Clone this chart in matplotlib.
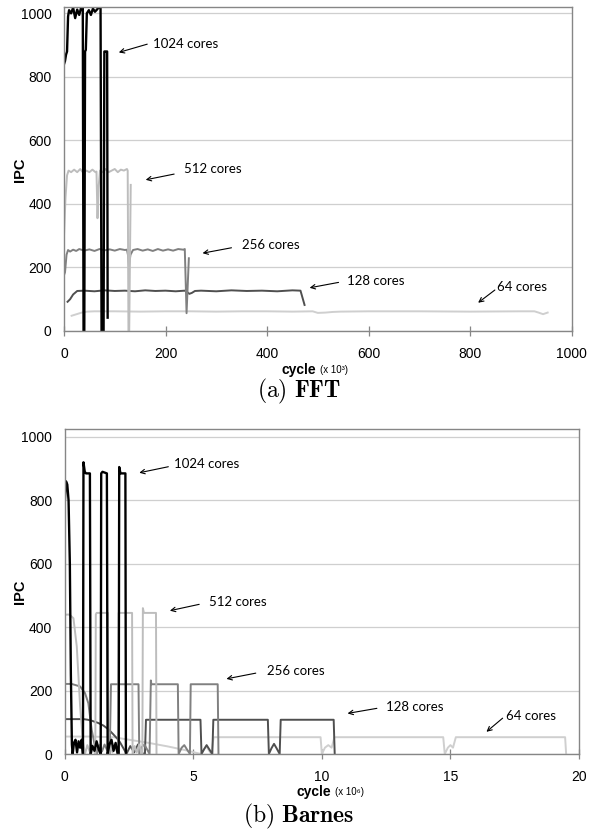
import matplotlib
matplotlib.use("Agg")
import matplotlib.pyplot as plt

# ---------------- FFT data (x in 10^3 cycles) ----------------
fft_x_1024 = [0, 2, 4, 6, 8, 10, 14, 18, 22, 26, 30, 34, 36, 37, 38.5, 40, 41.5, 43, 45, 49, 53, 57, 61, 65, 69, 72, 74, 76, 78, 79.5, 82, 85, 86]
fft_y_1024 = [840, 850, 870, 880, 990, 1010, 1000, 1018, 985, 1012, 995, 1020, 1015, 1020, 0, 0, 880, 885, 1000, 1010, 995, 1015, 1005, 1012, 1020, 1020, 0, 0, 0, 880, 880, 880, 42]

fft_x_512 = [0, 3, 6, 9, 14, 20, 26, 32, 38, 44, 50, 56, 62, 64, 66, 68, 71, 76, 82, 88, 94, 100, 106, 112, 118, 124, 125.5, 127, 128.5, 131.5]
fft_y_512 = [300, 420, 490, 505, 500, 508, 500, 510, 498, 505, 500, 508, 500, 502, 355, 450, 505, 500, 510, 500, 505, 510, 500, 508, 505, 510, 505, 0, 0, 460]

fft_x_256 = [0, 2, 5, 8, 12, 18, 24, 30, 40, 50, 60, 70, 80, 90, 100, 110, 120, 124, 126, 128, 131, 136, 145, 155, 165, 175, 185, 195, 205, 215, 225, 235, 238, 241.5, 246]
fft_y_256 = [176, 185, 240, 255, 250, 256, 252, 258, 253, 257, 252, 258, 254, 257, 253, 258, 255, 256, 240, 205, 240, 255, 258, 253, 257, 252, 258, 253, 257, 253, 258, 256, 258, 56, 229]

fft_x_128 = [7, 12, 18, 26, 40, 60, 80, 100, 120, 140, 160, 180, 200, 220, 238, 243, 247, 252, 258, 270, 300, 330, 360, 390, 420, 450, 466, 474]
fft_y_128 = [92, 100, 115, 126, 127, 125, 128, 126, 127, 125, 128, 126, 127, 125, 127, 122, 117, 120, 126, 127, 125, 128, 126, 127, 125, 128, 127, 82]

fft_x_64 = [15, 25, 35, 45, 60, 100, 150, 200, 250, 300, 350, 400, 450, 490, 500, 515, 530, 545, 600, 700, 800, 900, 927, 935, 944, 953]
fft_y_64 = [48, 53, 58, 61, 62, 62, 61, 62, 62, 61, 62, 62, 61, 62, 57, 58, 60, 61, 62, 62, 61, 62, 62, 58, 53, 58]

# ---------------- Barnes data (x in 10^6 cycles) ----------------
bar_x_1024 = [0, 0.05, 0.1, 0.15, 0.2, 0.24, 0.28, 0.31, 0.36, 0.42, 0.48, 0.54, 0.6, 0.66, 0.71, 0.73, 0.78, 0.83, 0.98, 1.01, 1.08, 1.16, 1.24, 1.32, 1.40, 1.42, 1.47, 1.64, 1.67, 1.74, 1.82, 1.9, 1.98, 2.06, 2.10, 2.12, 2.17, 2.36, 2.38]
bar_y_1024 = [790, 860, 850, 800, 600, 250, 30, 0, 35, 45, 5, 40, 20, 45, 0, 920, 890, 885, 885, 0, 25, 10, 40, 15, 0, 885, 890, 885, 0, 30, 45, 10, 35, 0, 0, 905, 885, 885, 0]

bar_x_512 = [0, 0.15, 0.25, 0.34, 0.47, 0.6, 0.7, 0.79, 0.88, 0.97, 1.06, 1.14, 1.19, 1.21, 1.24, 1.68, 1.70, 1.78, 1.86, 1.94, 2.02, 2.08, 2.10, 2.62, 2.64, 2.72, 2.8, 2.9, 2.98, 3.02, 3.04, 3.08, 3.55, 3.57]
bar_y_512 = [439, 440, 435, 428, 339, 150, 44, 0, 28, 8, 30, 10, 0, 440, 445, 445, 0, 25, 5, 30, 10, 0, 445, 445, 0, 25, 5, 30, 0, 0, 460, 445, 445, 0]

bar_x_256 = [0, 0.27, 0.6, 0.79, 0.92, 1.05, 1.18, 1.25, 1.35, 1.45, 1.55, 1.65, 1.75, 1.80, 2.87, 2.90, 3.0, 3.1, 3.2, 3.3, 3.35, 3.37, 4.40, 4.43, 4.55, 4.65, 4.75, 4.87, 4.90, 5.95, 5.98]
bar_y_256 = [221, 221, 213, 192, 160, 76, 23, 0, 28, 8, 30, 12, 0, 220, 220, 0, 22, 30, 15, 0, 232, 220, 220, 0, 20, 28, 15, 0, 220, 220, 0]

bar_x_128 = [0, 0.4, 0.73, 0.9, 1.05, 1.3, 1.5, 1.7, 1.89, 2.05, 2.15, 2.34, 2.4, 2.55, 2.7, 2.85, 3.0, 3.12, 3.16, 5.28, 5.32, 5.42, 5.52, 5.62, 5.74, 5.78, 7.9, 7.94, 8.04, 8.14, 8.24, 8.36, 8.40, 10.46, 10.5]
bar_y_128 = [110, 110, 110, 108, 105, 98, 90, 78, 62, 48, 37, 10, 0, 25, 5, 30, 3, 0, 108, 108, 0, 15, 28, 15, 0, 108, 108, 0, 18, 32, 18, 0, 108, 108, 0]

bar_x_64 = [0, 1.0, 1.9, 2.5, 3.2, 4.0, 4.7, 5.2, 5.3, 5.5, 5.7, 5.79, 9.95, 10.0, 10.12, 10.25, 10.38, 10.49, 14.72, 14.78, 14.9, 15.0, 15.1, 15.21, 19.46, 19.5]
bar_y_64 = [55, 55, 53, 45, 36, 24, 12, 2, 0, 25, 0, 53, 53, 0, 20, 28, 20, 53, 53, 0, 20, 28, 20, 53, 53, 0]

series_labels = ["1024 cores", "512 cores", "256 cores", "128 cores", "64 cores"]
colors = {"1024": "#000000", "512": "#bdbdbd", "256": "#808080", "128": "#4f4f4f", "64": "#cfcfcf"}

# annotation positions (text xy, arrow tail, arrow head) in data coords
fft_ann = [
    ("1024 cores", (175, 905), (164, 903), (108, 877)),
    ("512 cores", (236, 509), (217, 494), (161, 476)),
    ("256 cores", (351, 271), (330, 262), (273, 245)),
    ("128 cores", (558, 157), (541, 153), (484, 136)),
    ("64 cores", (854, 140), (849, 129), (816, 89)),
]
bar_ann = [
    ("1024 cores", (4.26, 915), (4.03, 906), (2.9, 887)),
    ("512 cores", (5.62, 480), (5.23, 472), (4.09, 452)),
    ("256 cores", (7.85, 263), (7.43, 255), (6.29, 237)),
    ("128 cores", (12.49, 149), (12.14, 144), (11.0, 128)),
    ("64 cores", (17.16, 120), (17.03, 113), (16.4, 70)),
]

W, H = 598, 836
fig = plt.figure(figsize=(W / 100, H / 100), dpi=100)

ax1 = fig.add_axes([64 / W, 1 - 331 / H, (571.5 - 64) / W, (331 - 7) / H])
ax2 = fig.add_axes([64.7 / W, 1 - 754 / H, (579 - 64.7) / W, (754 - 429) / H])

tickfont = ["Liberation Sans", "DejaVu Sans"]
annfont = ["Lato", "DejaVu Sans"]


def style(ax, xlim, xticks, ylim):
    ax.set_xlim(*xlim)
    ax.set_ylim(*ylim)
    ax.set_xticks(xticks)
    ax.set_yticks([0, 200, 400, 600, 800, 1000])
    ax.grid(axis="y", color="#cfcfcf", lw=0.9)
    ax.set_axisbelow(True)
    for s in ax.spines.values():
        s.set_color("#868686")
        s.set_linewidth(1.0)
    ax.tick_params(axis="x", direction="inout", length=7, width=0.9, color="#868686", pad=8, labelsize=10)
    ax.tick_params(axis="y", length=0, pad=9, labelsize=10)
    for lab in ax.get_xticklabels() + ax.get_yticklabels():
        lab.set_family(tickfont)


def draw(ax, data, ann):
    for (x, y, c, lw) in data:
        ax.plot(x, y, color=c, lw=lw, solid_joinstyle="round", clip_on=True)
    for text, txy, tail, head in ann:
        ax.text(txy[0], txy[1], text, fontsize=9.5, family=annfont, va="center", ha="left")
        ax.annotate("", xy=head, xytext=tail,
                    arrowprops=dict(arrowstyle="->", color="black", lw=0.8, shrinkA=0, shrinkB=0,
                                    mutation_scale=8))


draw(ax1, [
    (fft_x_64, fft_y_64, colors["64"], 1.4),
    (fft_x_128, fft_y_128, colors["128"], 1.4),
    (fft_x_256, fft_y_256, colors["256"], 1.4),
    (fft_x_512, fft_y_512, colors["512"], 1.4),
    (fft_x_1024, fft_y_1024, colors["1024"], 1.7),
], fft_ann)
style(ax1, (0, 1000), [0, 200, 400, 600, 800, 1000], (0, 1020))

draw(ax2, [
    (bar_x_64, bar_y_64, colors["64"], 1.4),
    (bar_x_128, bar_y_128, colors["128"], 1.4),
    (bar_x_256, bar_y_256, colors["256"], 1.4),
    (bar_x_512, bar_y_512, colors["512"], 1.4),
    (bar_x_1024, bar_y_1024, colors["1024"], 1.7),
], bar_ann)
style(ax2, (0, 20), [0, 5, 10, 15, 20], (0, 1025))

# y labels
fig.text(20 / W, 1 - 170 / H, "IPC", rotation=90, fontsize=10.5, fontweight="bold", family=tickfont,
         ha="center", va="center")
fig.text(20 / W, 1 - 592 / H, "IPC", rotation=90, fontsize=10.5, fontweight="bold", family=tickfont,
         ha="center", va="center")

# x labels
fig.text(316 / W, 1 - 370 / H, "cycle", fontsize=10, fontweight="bold", family=tickfont, ha="right", va="center")
fig.text(320 / W, 1 - 370 / H, "(x 10³)", fontsize=7, family=tickfont, ha="left", va="center")
fig.text(331 / W, 1 - 792 / H, "cycle", fontsize=10, fontweight="bold", family=tickfont, ha="right", va="center")
fig.text(335 / W, 1 - 792 / H, "(x 10⁶)", fontsize=7, family=tickfont, ha="left", va="center")

# captions
fig.text(0.5, 1 - 391 / H, r"$\mathrm{(a)}\ \mathbf{FFT}$", fontsize=17, ha="center", va="center",
         math_fontfamily="cm")
fig.text(0.5, 1 - 816 / H, r"$\mathrm{(b)}\ \mathbf{Barnes}$", fontsize=17, ha="center", va="center",
         math_fontfamily="cm")

fig.savefig("out.png", dpi=100)
